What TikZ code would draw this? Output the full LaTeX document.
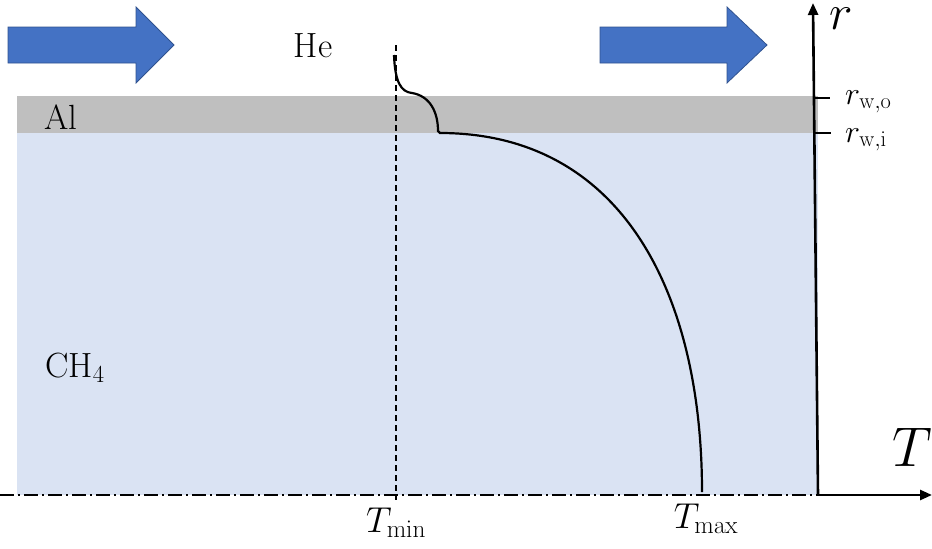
\RequirePackage{fix-cm}
\documentclass[tikz,border=0pt]{standalone}
\usetikzlibrary{arrows.meta}
\definecolor{ch4blue}{HTML}{DAE3F3}
\definecolor{algray}{HTML}{BFBFBF}
\definecolor{arrfill}{HTML}{4472C4}
\definecolor{arredge}{HTML}{2F528F}
\begin{document}
\begin{tikzpicture}[x=1pt,y=-1pt,
  flowarrow/.style={fill=arrfill,draw=arredge,line width=0.8pt},
  lbl/.style={inner sep=0pt,font=\fontsize{35}{38}\selectfont},
  axis/.style={line width=2.6pt,-{Triangle[length=12pt,width=10pt]}},
  profile/.style={line width=2.2pt},
  tick/.style={line width=2.4pt}]
\useasboundingbox (0,0) rectangle (932,549);
% regions
\fill[ch4blue] (17,133) rectangle (818,495);
\fill[algray] (17,96) rectangle (818,133);
% flow arrows
\draw[flowarrow] (8,27) -- (136,27) -- (136,7) -- (174,45) -- (136,83) -- (136,63) -- (8,63) -- cycle;
\draw[flowarrow] (600,27) -- (727,27) -- (727,7) -- (767,45) -- (727,83) -- (727,63) -- (600,63) -- cycle;
% labels
\node[lbl,anchor=base] (he) at (313,57) {He};
\node[lbl,anchor=base west] (al) at (44,129) {Al};
\node[lbl,anchor=base west] (ch4) at (45,377) {CH$_4$};
% centreline and Tmin line
\coordinate (cl0) at (0,495);
\coordinate (cl1) at (818,495);
\draw[line width=1.4pt,dash pattern=on 14pt off 4pt on 2pt off 4pt] (cl0) -- (cl1);
\coordinate (tmin0) at (396,45);
\coordinate (tmin1) at (396,500);
\draw[line width=1.4pt,dash pattern=on 6pt off 4pt] (tmin0) -- (tmin1);
% axes
\coordinate (origin) at (818,495);
\coordinate (rtop) at (813,3);
\coordinate (tend) at (932,495);
\draw[axis] (origin) -- (rtop);
\draw[axis] (origin) -- (tend);
\coordinate (wo) at (814,98);
\coordinate (wi) at (815,133);
\draw[tick] (wo) -- ++(16,0);
\draw[tick] (wi) -- ++(16,0);
\node[font=\fontsize{32}{36}\selectfont,anchor=base west,inner sep=0pt] (rwo) at (845,104) {$r_{\mathrm{w,o}}$};
\node[font=\fontsize{32}{36}\selectfont,anchor=base west,inner sep=0pt] (rwi) at (845,142) {$r_{\mathrm{w,i}}$};
\node[font=\fontsize{50}{54}\selectfont,inner sep=0pt,anchor=base west] (rlab) at (829,29) {$r$};
\node[font=\fontsize{56}{60}\selectfont,inner sep=0pt,anchor=base east] (tlab) at (932,466) {$T$};
\node[font=\fontsize{36}{40}\selectfont,inner sep=0pt,anchor=base] (tminl) at (396,532) {$T_{\min}$};
\node[font=\fontsize{36}{40}\selectfont,inner sep=0pt,anchor=base] (tmaxl) at (706,528) {$T_{\max}$};
% temperature profile
\draw[profile] (394,55) .. controls (395,82) and (401,92) .. (412,93)
  .. controls (430,96) and (438,112) .. (438,131) -- (440,133)
  .. controls (620,133) and (702,290) .. (702,492);
\end{tikzpicture}
\end{document}
